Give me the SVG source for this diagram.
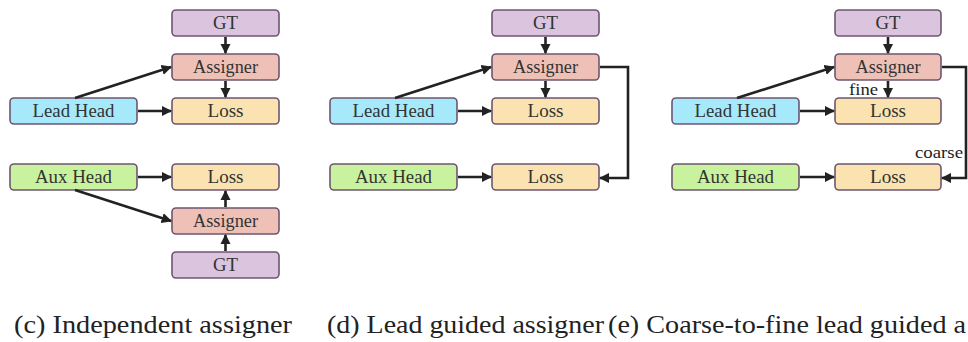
<svg xmlns="http://www.w3.org/2000/svg" width="968" height="342" viewBox="0 0 968 342">
  <defs>
    <marker id="ah" viewBox="0 0 10 10" refX="9" refY="5" markerWidth="4" markerHeight="4" orient="auto" markerUnits="strokeWidth">
      <path d="M0,0 L10,5 L0,10 z" fill="#222"/>
    </marker>
    <style>
      text { font-family: 'Liberation Serif', 'DejaVu Serif', 'Times New Roman', serif; }
      .box { stroke: #6e5570; stroke-width: 1.6; }
      .gt { fill: #dbc4de; }
      .as { fill: #efc1b6; }
      .ls { fill: #fae3b0; }
      .lh { fill: #a6e9fa; }
      .ax { fill: #c9f29e; }
      .lbl { font-size: 18px; fill: #333; text-anchor: middle; }
      .sm { font-size: 17px; fill: #222; }
      .cap { font-size: 26px; fill: #222; }
      .cn { stroke: #222; stroke-width: 2.6; fill: none; marker-end: url(#ah); }
    </style>
  </defs>
  <rect width="968" height="342" fill="#fff"/>

  <!-- (c) independent assigner -->
  <g id="c-gt1"><rect class="box gt" x="172" y="10" width="107" height="26" rx="4"/><text class="lbl" x="225.5" y="29" textLength="25" lengthAdjust="spacingAndGlyphs">GT</text></g>
  <g id="c-as1"><rect class="box as" x="172" y="54" width="107" height="26" rx="4"/><text class="lbl" x="225.5" y="73" textLength="65" lengthAdjust="spacingAndGlyphs">Assigner</text></g>
  <g id="c-loss1"><rect class="box ls" x="172" y="98" width="107" height="26" rx="4"/><text class="lbl" x="225.5" y="117" textLength="36" lengthAdjust="spacingAndGlyphs">Loss</text></g>
  <g id="c-lead"><rect class="box lh" x="10" y="98" width="127" height="26" rx="4"/><text class="lbl" x="73.5" y="117" textLength="82" lengthAdjust="spacingAndGlyphs">Lead Head</text></g>
  <g id="c-aux"><rect class="box ax" x="10" y="164" width="127" height="26" rx="4"/><text class="lbl" x="73.5" y="183" textLength="77" lengthAdjust="spacingAndGlyphs">Aux Head</text></g>
  <g id="c-loss2"><rect class="box ls" x="172" y="164" width="107" height="26" rx="4"/><text class="lbl" x="225.5" y="183" textLength="36" lengthAdjust="spacingAndGlyphs">Loss</text></g>
  <g id="c-as2"><rect class="box as" x="172" y="208" width="107" height="26" rx="4"/><text class="lbl" x="225.5" y="227" textLength="65" lengthAdjust="spacingAndGlyphs">Assigner</text></g>
  <g id="c-gt2"><rect class="box gt" x="172" y="252" width="107" height="26" rx="4"/><text class="lbl" x="225.5" y="271" textLength="25" lengthAdjust="spacingAndGlyphs">GT</text></g>

  <!-- (d) lead guided assigner -->
  <g id="d-gt"><rect class="box gt" x="492" y="10" width="107" height="26" rx="4"/><text class="lbl" x="545.5" y="29" textLength="25" lengthAdjust="spacingAndGlyphs">GT</text></g>
  <g id="d-as"><rect class="box as" x="492" y="54" width="107" height="26" rx="4"/><text class="lbl" x="545.5" y="73" textLength="65" lengthAdjust="spacingAndGlyphs">Assigner</text></g>
  <g id="d-loss1"><rect class="box ls" x="492" y="98" width="107" height="26" rx="4"/><text class="lbl" x="545.5" y="117" textLength="36" lengthAdjust="spacingAndGlyphs">Loss</text></g>
  <g id="d-lead"><rect class="box lh" x="330" y="98" width="127" height="26" rx="4"/><text class="lbl" x="393.5" y="117" textLength="82" lengthAdjust="spacingAndGlyphs">Lead Head</text></g>
  <g id="d-aux"><rect class="box ax" x="330" y="164" width="127" height="26" rx="4"/><text class="lbl" x="393.5" y="183" textLength="77" lengthAdjust="spacingAndGlyphs">Aux Head</text></g>
  <g id="d-loss2"><rect class="box ls" x="492" y="164" width="107" height="26" rx="4"/><text class="lbl" x="545.5" y="183" textLength="36" lengthAdjust="spacingAndGlyphs">Loss</text></g>

  <!-- (e) coarse-to-fine lead guided assigner -->
  <g id="e-gt"><rect class="box gt" x="835" y="10" width="106" height="26" rx="4"/><text class="lbl" x="888" y="29" textLength="25" lengthAdjust="spacingAndGlyphs">GT</text></g>
  <g id="e-as"><rect class="box as" x="835" y="54" width="106" height="26" rx="4"/><text class="lbl" x="888" y="73" textLength="65" lengthAdjust="spacingAndGlyphs">Assigner</text></g>
  <g id="e-loss1"><rect class="box ls" x="835" y="98" width="106" height="26" rx="4"/><text class="lbl" x="888" y="117" textLength="36" lengthAdjust="spacingAndGlyphs">Loss</text></g>
  <g id="e-lead"><rect class="box lh" x="672" y="98" width="127" height="26" rx="4"/><text class="lbl" x="735.5" y="117" textLength="82" lengthAdjust="spacingAndGlyphs">Lead Head</text></g>
  <g id="e-aux"><rect class="box ax" x="672" y="164" width="127" height="26" rx="4"/><text class="lbl" x="735.5" y="183" textLength="77" lengthAdjust="spacingAndGlyphs">Aux Head</text></g>
  <g id="e-loss2"><rect class="box ls" x="835" y="164" width="106" height="26" rx="4"/><text class="lbl" x="888" y="183" textLength="36" lengthAdjust="spacingAndGlyphs">Loss</text></g>
  <text class="sm" x="849" y="95" textLength="29" lengthAdjust="spacingAndGlyphs">fine</text>
  <text class="sm" x="915" y="158" textLength="48" lengthAdjust="spacingAndGlyphs">coarse</text>

  <!-- sub-figure captions -->
  <text class="cap" x="14" y="333" textLength="278" lengthAdjust="spacingAndGlyphs">(c) Independent assigner</text>
  <text class="cap" x="327" y="333" textLength="277" lengthAdjust="spacingAndGlyphs">(d) Lead guided assigner</text>
  <text class="cap" x="608" y="333" textLength="358" lengthAdjust="spacingAndGlyphs">(e) Coarse-to-fine lead guided a</text>

  <g id="connectors">
    <!-- (c) -->
    <line class="cn" x1="225.5" y1="37" x2="225.5" y2="53"/>
    <line class="cn" x1="225.5" y1="81" x2="225.5" y2="97"/>
    <line class="cn" x1="75" y1="98" x2="171" y2="67"/>
    <line class="cn" x1="138" y1="111" x2="171" y2="111"/>
    <line class="cn" x1="138" y1="177" x2="171" y2="177"/>
    <line class="cn" x1="75" y1="190" x2="171" y2="221"/>
    <line class="cn" x1="225.5" y1="207" x2="225.5" y2="191"/>
    <line class="cn" x1="225.5" y1="251" x2="225.5" y2="235"/>
    <!-- (d) -->
    <line class="cn" x1="545.5" y1="37" x2="545.5" y2="53"/>
    <line class="cn" x1="545.5" y1="81" x2="545.5" y2="97"/>
    <line class="cn" x1="395" y1="98" x2="491" y2="67"/>
    <line class="cn" x1="458" y1="111" x2="491" y2="111"/>
    <line class="cn" x1="458" y1="177" x2="491" y2="177"/>
    <polyline class="cn" points="600,67 628,67 628,178 600,178"/>
    <!-- (e) -->
    <line class="cn" x1="888" y1="37" x2="888" y2="53"/>
    <line class="cn" x1="888" y1="81" x2="888" y2="97"/>
    <line class="cn" x1="737" y1="98" x2="834" y2="67"/>
    <line class="cn" x1="800" y1="111" x2="834" y2="111"/>
    <line class="cn" x1="800" y1="177" x2="834" y2="177"/>
    <polyline class="cn" points="942,67 966,67 966,178 942,178"/>
  </g>
</svg>
